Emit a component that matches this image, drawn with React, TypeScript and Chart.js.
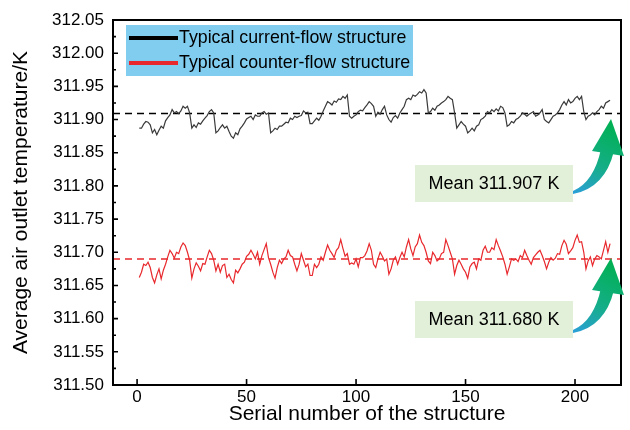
import React, { useEffect, useRef } from "react";
import { Chart, registerables } from "chart.js";

Chart.register(...registerables);

// ---------- data ----------
const currentFlow: number[] = [
  311.887, 311.887, 311.893, 311.897, 311.896, 311.892, 311.880, 311.885, 311.877, 311.884,
  311.890, 311.887, 311.898, 311.903, 311.907, 311.915, 311.910, 311.912, 311.909, 311.913,
  311.920, 311.917, 311.920, 311.910, 311.887, 311.892, 311.888, 311.895, 311.893, 311.898,
  311.902, 311.906, 311.912, 311.915, 311.910, 311.880, 311.883, 311.888, 311.892, 311.887,
  311.890, 311.882, 311.875, 311.872, 311.880, 311.877, 311.886, 311.890, 311.895, 311.901,
  311.903, 311.905, 311.900, 311.907, 311.905, 311.905, 311.910, 311.912, 311.908, 311.910,
  311.880, 311.883, 311.887, 311.885, 311.890, 311.890, 311.893, 311.896, 311.895, 311.902,
  311.900, 311.905, 311.903, 311.905, 311.906, 311.913, 311.910, 311.911, 311.894, 311.894,
  311.898, 311.902, 311.899, 311.905, 311.913, 311.920, 311.927, 311.925, 311.922, 311.928,
  311.926, 311.931, 311.930, 311.935, 311.932, 311.937, 311.905, 311.902, 311.905, 311.907,
  311.912, 311.914, 311.913, 311.918, 311.922, 311.927, 311.924, 311.920, 311.905, 311.911,
  311.908, 311.915, 311.920, 311.907, 311.900, 311.896, 311.903, 311.906, 311.902, 311.910,
  311.915, 311.920, 311.930, 311.932, 311.930, 311.937, 311.935, 311.938, 311.942, 311.940,
  311.945, 311.940, 311.910, 311.912, 311.917, 311.914, 311.920, 311.922, 311.925, 311.927,
  311.930, 311.935, 311.932, 311.930, 311.910, 311.887, 311.892, 311.897, 311.893, 311.890,
  311.880, 311.883, 311.887, 311.883, 311.890, 311.892, 311.900, 311.902, 311.905, 311.912,
  311.910, 311.915, 311.912, 311.916, 311.913, 311.920, 311.918, 311.910, 311.890, 311.892,
  311.897, 311.895, 311.900, 311.902, 311.905, 311.910, 311.908, 311.905, 311.908, 311.910,
  311.912, 311.905, 311.907, 311.910, 311.915, 311.900, 311.897, 311.895, 311.900, 311.905,
  311.907, 311.910, 311.915, 311.922, 311.927, 311.922, 311.930, 311.925, 311.927, 311.932,
  311.935, 311.930, 311.935, 311.912, 311.900, 311.905, 311.907, 311.910, 311.907, 311.912,
  311.915, 311.920, 311.917, 311.925, 311.927, 311.929,
];

const counterFlow: number[] = [
  311.662, 311.670, 311.682, 311.680, 311.685, 311.677, 311.662, 311.654, 311.666, 311.675,
  311.660, 311.673, 311.682, 311.693, 311.703, 311.698, 311.691, 311.700, 311.698, 311.708,
  311.714, 311.710, 311.700, 311.688, 311.661, 311.675, 311.684, 311.679, 311.672, 311.683,
  311.682, 311.693, 311.703, 311.698, 311.688, 311.672, 311.682, 311.670, 311.680, 311.682,
  311.662, 311.667, 311.659, 311.654, 311.673, 311.669, 311.675, 311.682, 311.685, 311.694,
  311.697, 311.703, 311.697, 311.690, 311.700, 311.682, 311.695, 311.704, 311.713, 311.692,
  311.682, 311.670, 311.661, 311.677, 311.688, 311.683, 311.690, 311.693, 311.703, 311.695,
  311.693, 311.682, 311.672, 311.682, 311.698, 311.688, 311.678, 311.682, 311.665, 311.665,
  311.682, 311.677, 311.682, 311.693, 311.688, 311.700, 311.711, 311.703, 311.698, 311.692,
  311.703, 311.707, 311.719, 311.706, 311.694, 311.698, 311.682, 311.684, 311.682, 311.690,
  311.678, 311.692, 311.692, 311.695, 311.702, 311.713, 311.703, 311.682, 311.677, 311.690,
  311.700, 311.694, 311.687, 311.690, 311.667, 311.675, 311.688, 311.693, 311.682, 311.692,
  311.700, 311.693, 311.708, 311.719, 311.705, 311.695, 311.708, 311.713, 311.726, 311.715,
  311.710, 311.700, 311.687, 311.683, 311.700, 311.695, 311.687, 311.690, 311.698, 311.700,
  311.719, 311.710, 311.700, 311.690, 311.667, 311.680, 311.688, 311.682, 311.675, 311.670,
  311.661, 311.678, 311.683, 311.685, 311.675, 311.690, 311.688, 311.703, 311.709, 311.700,
  311.700, 311.707, 311.704, 311.719, 311.710, 311.702, 311.693, 311.682, 311.667, 311.678,
  311.690, 311.688, 311.690, 311.686, 311.695, 311.692, 311.703, 311.695, 311.688, 311.682,
  311.692, 311.696, 311.700, 311.703, 311.695, 311.686, 311.675, 311.685, 311.692, 311.688,
  311.691, 311.698, 311.697, 311.710, 311.718, 311.712, 311.698, 311.702, 311.707, 311.718,
  311.726, 311.715, 311.716, 311.700, 311.675, 311.687, 311.693, 311.680, 311.690, 311.695,
  311.693, 311.690, 311.703, 311.716, 311.700, 311.713,
];

const firstSerial = 1;
// dashed mean lines as drawn in the figure
const currentMeanLine = 311.909;
const counterMeanLine = 311.69;

const seriesLabels = ["Typical current-flow structure", "Typical counter-flow structure"];
const meanLabels = ["Mean 311.907 K", "Mean 311.680 K"];
const xTickValues = [0, 50, 100, 150, 200];
const yTickValues = [
  311.5, 311.55, 311.6, 311.65, 311.7, 311.75, 311.8, 311.85, 311.9, 311.95, 312.0, 312.05,
];
const xRange = [-11, 221];
const yRange = [311.5, 312.05];
const xTitle = "Serial number of the structure";
const yTitle = "Average air outlet temperature/K";

// ---------- styles ----------
const FONT = "'Liberation Sans', Arial, Helvetica, sans-serif";
const BLACK_LINE = "#3a3a3a";
const RED_LINE = "#e8282c";
const LEGEND_BG = "#80cdef";
const NOTE_BG = "#e2efd9";

function drawArrow(ctx: CanvasRenderingContext2D, dy: number) {
  const g = ctx.createLinearGradient(573, 193 + dy, 611, 120 + dy);
  g.addColorStop(0, "#2b9fd8");
  g.addColorStop(0.45, "#14ae86");
  g.addColorStop(1, "#00b050");
  ctx.fillStyle = g;
  // body
  ctx.beginPath();
  ctx.moveTo(573, 194 + dy);
  ctx.quadraticCurveTo(605, 188 + dy, 614, 151 + dy);
  ctx.lineTo(601, 149 + dy);
  ctx.quadraticCurveTo(594, 182 + dy, 573, 191 + dy);
  ctx.closePath();
  ctx.fill();
  // head
  ctx.beginPath();
  ctx.moveTo(592, 151 + dy);
  ctx.lineTo(611, 119 + dy);
  ctx.lineTo(624, 156 + dy);
  ctx.closePath();
  ctx.fill();
}

const decorPlugin = {
  id: "decor",
  afterDraw(chart: any) {
    const { ctx, chartArea, scales } = chart;
    const { left, right, top, bottom } = chartArea;
    const x = scales.x;
    const y = scales.y;
    ctx.save();
    // frame
    ctx.strokeStyle = "#000";
    ctx.lineWidth = 2;
    ctx.strokeRect(left, top, right - left, bottom - top);
    // y ticks (inward), major + minor
    ctx.lineWidth = 1.6;
    ctx.beginPath();
    yTickValues.forEach((v, i) => {
      const py = y.getPixelForValue(v);
      ctx.moveTo(left, py);
      ctx.lineTo(left + 5, py);
      if (i < yTickValues.length - 1) {
        const pm = y.getPixelForValue((v + yTickValues[i + 1]) / 2);
        ctx.moveTo(left, pm);
        ctx.lineTo(left + 3, pm);
      }
    });
    xTickValues.forEach((v) => {
      const px = x.getPixelForValue(v);
      ctx.moveTo(px, bottom);
      ctx.lineTo(px, bottom - 6);
    });
    ctx.stroke();

    // legend box
    ctx.fillStyle = LEGEND_BG;
    ctx.fillRect(126, 25, 287, 51);
    ctx.lineWidth = 4;
    ctx.strokeStyle = "#000";
    ctx.beginPath();
    ctx.moveTo(129, 38);
    ctx.lineTo(178, 38);
    ctx.stroke();
    ctx.strokeStyle = RED_LINE;
    ctx.beginPath();
    ctx.moveTo(129, 63);
    ctx.lineTo(178, 63);
    ctx.stroke();
    ctx.fillStyle = "#000";
    ctx.font = `17.8px ${FONT}`;
    ctx.textAlign = "left";
    ctx.textBaseline = "middle";
    ctx.fillText(seriesLabels[0], 179, 38.5);
    ctx.fillText(seriesLabels[1], 179, 63.5);

    // mean notes
    const boxes = [165, 301];
    boxes.forEach((by, i) => {
      ctx.fillStyle = NOTE_BG;
      ctx.fillRect(415, by, 158, 37);
      ctx.fillStyle = "#000";
      ctx.font = `18px ${FONT}`;
      ctx.textAlign = "center";
      ctx.textBaseline = "middle";
      ctx.fillText(meanLabels[i], 494, by + 19);
    });
    drawArrow(ctx, 0);
    drawArrow(ctx, 139);
    ctx.restore();
  },
};

export default function App() {
  const ref = useRef<HTMLCanvasElement | null>(null);

  useEffect(() => {
    document.body.style.margin = "0";
    const canvas = ref.current;
    if (!canvas) return;
    const toPoints = (arr: number[]) => arr.map((v, i) => ({ x: firstSerial + i, y: v }));
    const chart = new Chart(canvas, {
      type: "line",
      data: {
        datasets: [
          {
            label: seriesLabels[0],
            data: toPoints(currentFlow),
            borderColor: BLACK_LINE,
            borderWidth: 1.2,
            pointRadius: 0,
            tension: 0,
          },
          {
            label: seriesLabels[1],
            data: toPoints(counterFlow),
            borderColor: RED_LINE,
            borderWidth: 1.2,
            pointRadius: 0,
            tension: 0,
          },
          {
            label: "current mean",
            data: [
              { x: xRange[0], y: currentMeanLine },
              { x: xRange[1], y: currentMeanLine },
            ],
            borderColor: "#000",
            borderWidth: 1.5,
            borderDash: [7, 5],
            pointRadius: 0,
          },
          {
            label: "counter mean",
            data: [
              { x: xRange[0], y: counterMeanLine },
              { x: xRange[1], y: counterMeanLine },
            ],
            borderColor: RED_LINE,
            borderWidth: 1.5,
            borderDash: [7, 5],
            pointRadius: 0,
          },
        ],
      },
      options: {
        animation: false,
        responsive: false,
        maintainAspectRatio: false,
        layout: { padding: { left: 0, right: 9, top: 20, bottom: 0 } },
        plugins: { legend: { display: false }, tooltip: { enabled: false } },
        scales: {
          x: {
            type: "linear",
            min: xRange[0],
            max: xRange[1],
            afterBuildTicks: (s: any) => {
              s.ticks = xTickValues.map((v) => ({ value: v }));
            },
            afterFit: (s: any) => {
              s.height = 45;
            },
            grid: { display: false, drawTicks: false },
            border: { display: false },
            ticks: {
              color: "#000",
              font: { family: FONT, size: 17 },
              padding: 2,
              maxRotation: 0,
              autoSkip: false,
              callback: (v: any) => String(v),
            },
            title: {
              display: true,
              text: xTitle,
              color: "#000",
              font: { family: FONT, size: 21 },
              padding: { top: 0, bottom: 3 },
            },
          },
          y: {
            type: "linear",
            min: yRange[0],
            max: yRange[1],
            afterBuildTicks: (s: any) => {
              s.ticks = yTickValues.map((v) => ({ value: v }));
            },
            afterFit: (s: any) => {
              s.width = 113;
            },
            grid: { display: false, drawTicks: false },
            border: { display: false },
            ticks: {
              color: "#000",
              font: { family: FONT, size: 17 },
              padding: 9,
              autoSkip: false,
              callback: (v: any) => Number(v).toFixed(2),
            },
            title: {
              display: true,
              text: yTitle,
              color: "#000",
              font: { family: FONT, size: 21 },
              padding: { top: 9, bottom: 0 },
            },
          },
        },
      },
      plugins: [decorPlugin],
    });
    return () => chart.destroy();
  }, []);

  return (
    <div style={{ width: 630, height: 430 }}>
      <canvas ref={ref} width={630} height={430} style={{ display: "block" }} />
    </div>
  );
}
